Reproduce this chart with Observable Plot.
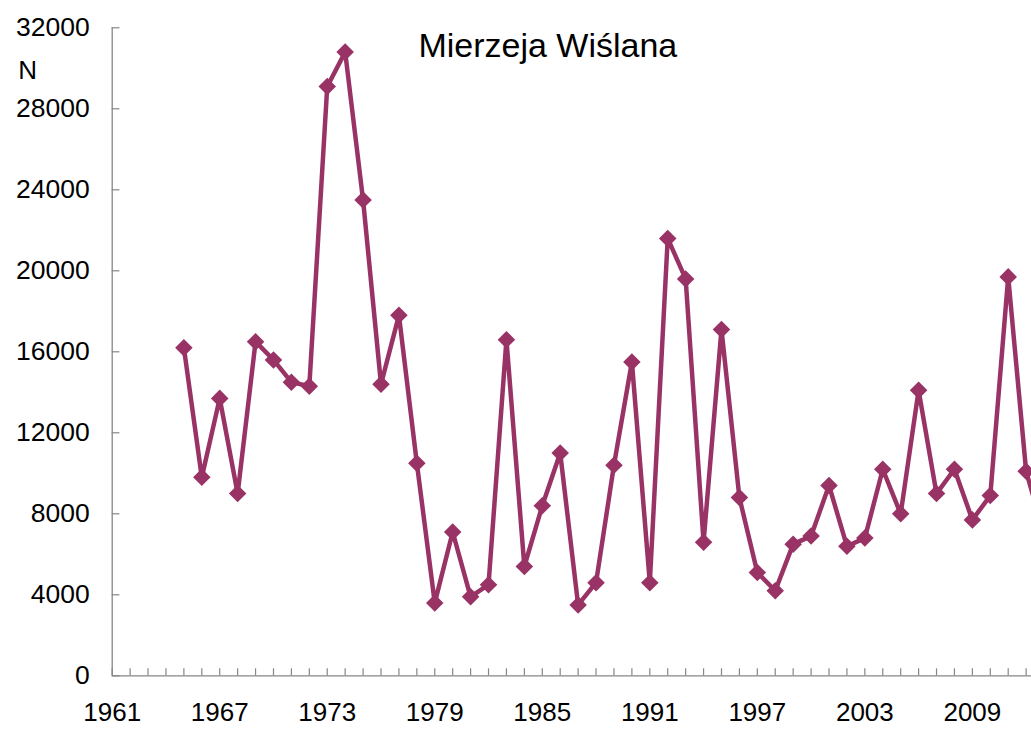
<!DOCTYPE html>
<html>
<head>
<meta charset="utf-8">
<script src="https://cdn.jsdelivr.net/npm/d3@7"></script>
<script src="https://cdn.jsdelivr.net/npm/@observablehq/plot@0.6"></script>
<style>
  html, body { margin: 0; padding: 0; background: #fff; }
  #chart { width: 1031px; height: 729px; overflow: hidden; }
  svg { font-family: "Liberation Sans", Arial, sans-serif; }
</style>
</head>
<body>
<div id="chart"></div>
<script>
const title = "Mierzeja Wiślana";
const yLabel = "N";
const years = [1965,1966,1967,1968,1969,1970,1971,1972,1973,1974,1975,1976,1977,1978,1979,1980,1981,1982,1983,1984,1985,1986,1987,1988,1989,1990,1991,1992,1993,1994,1995,1996,1997,1998,1999,2000,2001,2002,2003,2004,2005,2006,2007,2008,2009,2010,2011,2012,2013];
const counts = [16200,9800,13700,9000,16500,15600,14500,14300,29100,30800,23500,14400,17800,10500,3600,7100,3900,4500,16600,5400,8400,11000,3500,4600,10400,15500,4600,21600,19600,6600,17100,8800,5100,4200,6500,6900,9400,6400,6800,10200,8000,14100,9000,10200,7700,8900,19700,10100,7000];
const yTicks = [0,4000,8000,12000,16000,20000,24000,28000,32000];
const xMinorTicks = d3.range(1961, 2013);
const xLabels = [1961,1967,1973,1979,1985,1991,1997,2003,2009];

const data = years.map((y, i) => ({year: y, n: counts[i]}));
const color = "#993366";
const axisColor = "#868686";

const chart = Plot.plot({
  width: 1031,
  height: 729,
  marginLeft: 111.7,
  marginRight: 0,
  marginTop: 27.3,
  marginBottom: 53.7,
  style: {fontFamily: "'Liberation Sans', Arial, sans-serif", background: "#fff", overflow: "hidden"},
  x: {domain: [1961, 2012.3]},
  y: {domain: [0, 32000]},
  marks: [
    Plot.ruleY([0], {stroke: axisColor, strokeWidth: 1.3}),
    Plot.ruleX([1961], {stroke: axisColor, strokeWidth: 1.3}),
    Plot.axisX({ticks: xMinorTicks, tickSize: -7, stroke: axisColor, strokeOpacity: 1, strokeWidth: 1.2, text: null, label: null}),
    Plot.axisY({ticks: yTicks, tickSize: -7.7, stroke: axisColor, strokeOpacity: 1, strokeWidth: 1.2, text: null, label: null}),
    Plot.axisX({ticks: xLabels, tickSize: 0, tickPadding: 27, tickFormat: d => String(d), fontSize: 26, fill: "#000", label: null}),
    Plot.axisY({ticks: yTicks, tickSize: 0, tickPadding: 22.5, tickFormat: d => String(d), fontSize: 26.5, fill: "#000", label: null}),
    Plot.line(data, {x: "year", y: "n", stroke: color, strokeWidth: 4.5, clip: true}),
    Plot.dot(data, {x: "year", y: "n", symbol: "diamond2", r: 7.9, fill: color, stroke: null, clip: true}),
    Plot.text([title], {frameAnchor: "top", dx: -24, dy: 18, fontSize: 34, fill: "#000", lineAnchor: "middle"}),
    Plot.text([yLabel], {frameAnchor: "top-left", dx: -84.5, dy: 43, fontSize: 26, fill: "#000", textAnchor: "middle", lineAnchor: "middle"})
  ]
});
document.getElementById("chart").appendChild(chart);
</script>
</body>
</html>
